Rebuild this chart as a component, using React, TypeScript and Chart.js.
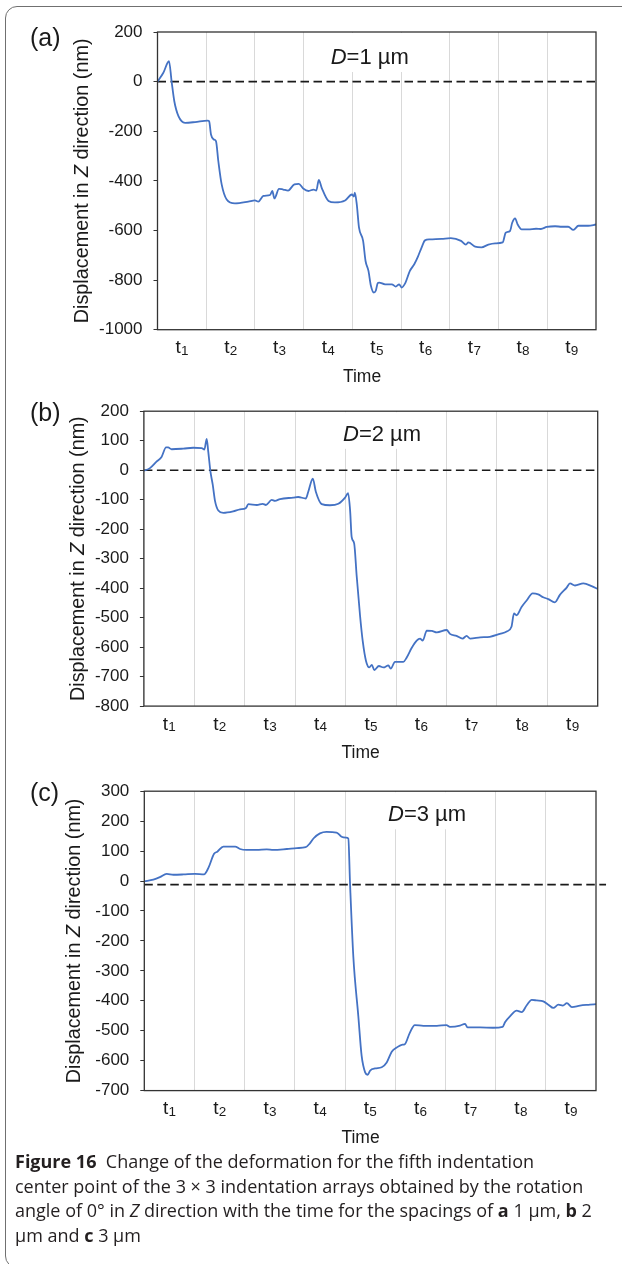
import React, { useEffect, useRef } from 'react';
import { Chart, registerables } from 'chart.js';

Chart.register(...registerables);

// ---------- data ----------
const tickBase = 't';
const tickSubs = ['1', '2', '3', '4', '5', '6', '7', '8', '9'];
const xTitle = 'Time';
const yTitle = ['Displacement in ', 'Z', ' direction (nm)'];

// time in units of interval (0..9), displacement in nm
const timeA = [0.0, 0.12, 0.236, 0.29, 0.345, 0.43, 0.565, 0.77, 1.03, 1.06, 1.098, 1.153, 1.2, 1.248, 1.317, 1.42, 1.59, 1.864, 2.0, 2.07, 2.172, 2.31, 2.356, 2.4, 2.494, 2.58, 2.68, 2.81, 2.9, 2.99, 3.1, 3.2, 3.26, 3.31, 3.37, 3.51, 3.64, 3.85, 3.99, 4.03, 4.05, 4.09, 4.136, 4.22, 4.27, 4.33, 4.38, 4.44, 4.48, 4.52, 4.55, 4.67, 4.81, 4.89, 4.96, 5.01, 5.09, 5.18, 5.27, 5.35, 5.42, 5.49, 5.59, 5.83, 6.02, 6.23, 6.33, 6.38, 6.52, 6.65, 6.79, 6.93, 7.085, 7.147, 7.235, 7.28, 7.34, 7.39, 7.475, 7.61, 7.77, 7.87, 7.99, 8.16, 8.3, 8.43, 8.535, 8.64, 8.84, 9.0];
const dispA = [0, 36, 82, 0, -79, -139, -166, -163, -157, -160, -213, -233, -240, -320, -414, -475, -491, -484, -479, -484, -461, -457, -441, -471, -432, -435, -439, -414, -412, -431, -441, -435, -439, -396, -428, -481, -487, -479, -455, -463, -448, -495, -589, -642, -723, -763, -823, -850, -843, -812, -810, -817, -817, -826, -817, -830, -810, -763, -736, -703, -669, -640, -636, -634, -631, -642, -657, -648, -665, -668, -657, -652, -648, -609, -602, -569, -551, -575, -596, -596, -593, -594, -586, -583, -585, -585, -598, -581, -581, -576];

const timeB = [0.0, 0.12, 0.25, 0.35, 0.44, 0.48, 0.55, 0.78, 0.98, 1.146, 1.2, 1.245, 1.277, 1.32, 1.365, 1.41, 1.476, 1.575, 1.77, 1.906, 2.025, 2.07, 2.24, 2.356, 2.42, 2.535, 2.6, 2.7, 2.963, 3.06, 3.21, 3.26, 3.35, 3.41, 3.526, 3.69, 3.856, 3.99, 4.05, 4.09, 4.12, 4.17, 4.22, 4.286, 4.34, 4.405, 4.47, 4.52, 4.57, 4.66, 4.75, 4.85, 4.895, 4.98, 5.145, 5.21, 5.31, 5.41, 5.476, 5.53, 5.61, 5.71, 5.81, 6.005, 6.07, 6.2, 6.32, 6.4, 6.47, 6.67, 6.86, 7.06, 7.195, 7.29, 7.34, 7.39, 7.49, 7.59, 7.71, 7.82, 7.92, 8.02, 8.15, 8.25, 8.385, 8.45, 8.55, 8.715, 8.88, 9.0];
const dispB = [-2, 7, 29, 45, 77, 77, 71, 73, 76, 75, 70, 106, 62, -5, -49, -104, -137, -145, -140, -133, -128, -115, -118, -114, -118, -101, -104, -98, -93, -91, -96, -73, -29, -73, -115, -119, -114, -93, -78, -137, -226, -248, -359, -492, -580, -647, -669, -660, -678, -664, -669, -662, -673, -650, -650, -636, -603, -578, -571, -578, -544, -545, -550, -542, -555, -562, -571, -562, -571, -567, -565, -555, -547, -531, -486, -492, -464, -442, -418, -421, -431, -437, -448, -423, -398, -384, -391, -384, -393, -403];

const timeC = [0.0, 0.18, 0.31, 0.446, 0.58, 0.78, 1.01, 1.19, 1.275, 1.39, 1.455, 1.575, 1.81, 1.907, 2.04, 2.24, 2.44, 2.57, 2.84, 3.04, 3.215, 3.3, 3.37, 3.5, 3.63, 3.83, 3.93, 4.02, 4.065, 4.1, 4.165, 4.264, 4.33, 4.4, 4.45, 4.5, 4.6, 4.73, 4.83, 4.93, 5.03, 5.13, 5.19, 5.29, 5.39, 5.56, 5.83, 6.02, 6.09, 6.29, 6.39, 6.44, 6.69, 6.95, 7.14, 7.19, 7.29, 7.42, 7.52, 7.62, 7.72, 7.82, 7.95, 8.05, 8.15, 8.25, 8.34, 8.42, 8.52, 8.68, 8.88, 9.0];
const dispC = [-1, 5, 13, 24, 21, 22, 24, 22, 43, 91, 98, 115, 115, 107, 104, 104, 106, 104, 107, 110, 113, 126, 142, 159, 164, 162, 148, 145, 142, -12, -253, -451, -583, -639, -647, -633, -626, -622, -606, -570, -556, -547, -545, -507, -481, -484, -484, -481, -487, -483, -477, -489, -489, -490, -487, -471, -451, -433, -438, -415, -397, -399, -402, -413, -424, -413, -416, -408, -421, -416, -413, -411];

const yRangeA = [-1000, 200];
const yRangeB = [-800, 200];
const yRangeC = [-700, 300];
const yStepA = 200;
const yStepB = 100;
const yStepC = 100;
const zeroLineA = 0;
const zeroLineB = 0;
const zeroLineC = -12;
const zeroEndA = 9;
const zeroEndB = 9;
const zeroEndC = 9.2;
const spacingA = '1';
const spacingB = '2';
const spacingC = '3';

// ---------- layout / style ----------
const FAMILY = '"Liberation Sans", Arial, sans-serif';
const INK = '#1a1a1a';
const W = 622;

type Cfg = {
  top: number;
  height: number;
  area: { left: number; right: number; top: number; bottom: number };
  time: number[];
  disp: number[];
  yRange: number[];
  yStep: number;
  zero: number;
  zeroEnd: number;
  letter: string;
  letterBaseline: number;
  spacing: string;
  dLeft: number;
  dBaseline: number;
  yTitleX: number;
  timeX: number;
};

const panels: Cfg[] = [
  {
    top: 0, height: 390,
    area: { left: 157.5, right: 596, top: 32, bottom: 329.7 },
    time: timeA, disp: dispA, yRange: yRangeA, yStep: yStepA,
    zero: zeroLineA, zeroEnd: zeroEndA,
    letter: '(a)', letterBaseline: 45.7,
    spacing: spacingA, dLeft: 330.7, dBaseline: 64,
    yTitleX: 82.7, timeX: 362,
  },
  {
    top: 390, height: 380,
    area: { left: 143.9, right: 597.7, top: 15.1, bottom: 316.1 },
    time: timeB, disp: dispB, yRange: yRangeB, yStep: yStepB,
    zero: zeroLineB, zeroEnd: zeroEndB,
    letter: '(b)', letterBaseline: 30.7,
    spacing: spacingB, dLeft: 343, dBaseline: 50.8,
    yTitleX: 78.7, timeX: 360.7,
  },
  {
    top: 770, height: 380,
    area: { left: 144.3, right: 596, top: 17.6, bottom: 320.6 },
    time: timeC, disp: dispC, yRange: yRangeC, yStep: yStepC,
    zero: zeroLineC, zeroEnd: zeroEndC,
    letter: '(c)', letterBaseline: 30.7,
    spacing: spacingC, dLeft: 388, dBaseline: 51.3,
    yTitleX: 74.8, timeX: 360.5,
  },
];

function Panel({ cfg }: { cfg: Cfg }) {
  const ref = useRef<HTMLCanvasElement>(null);
  useEffect(() => {
    if (!ref.current) return;
    const a = cfg.area;

    const decor = {
      id: 'decor',
      beforeDatasetsDraw(chart: any) {
        const ctx = chart.ctx as CanvasRenderingContext2D;
        const ca = chart.chartArea;
        ctx.save();
        const fontI = `italic 22px ${FAMILY}`;
        const fontN = `22px ${FAMILY}`;
        const rest = '=' + cfg.spacing + ' µm';
        ctx.font = fontI;
        const dW = ctx.measureText('D').width;
        ctx.font = fontN;
        const rW = ctx.measureText(rest).width;
        ctx.fillStyle = '#ffffff';
        ctx.fillRect(cfg.dLeft - 6, ca.top + 1, dW + rW + 14, cfg.dBaseline + 8 - ca.top - 1);
        ctx.fillStyle = INK;
        ctx.textBaseline = 'alphabetic';
        ctx.textAlign = 'left';
        ctx.font = fontI;
        ctx.fillText('D', cfg.dLeft, cfg.dBaseline);
        ctx.font = fontN;
        ctx.fillText(rest, cfg.dLeft + dW, cfg.dBaseline);
        ctx.restore();
      },
      afterDraw(chart: any) {
        const ctx = chart.ctx as CanvasRenderingContext2D;
        const ca = chart.chartArea;
        const xs = chart.scales.x;
        ctx.save();
        ctx.strokeStyle = '#333333';
        ctx.lineWidth = 1.3;
        ctx.strokeRect(ca.left, ca.top, ca.right - ca.left, ca.bottom - ca.top);
        ctx.fillStyle = INK;
        ctx.textBaseline = 'alphabetic';
        ctx.textAlign = 'left';
        // x tick labels t with subscript
        const fT = `19px ${FAMILY}`;
        const fS = `13.5px ${FAMILY}`;
        tickSubs.forEach((s, i) => {
          const cx = xs.getPixelForValue(i + 0.5);
          ctx.font = fT;
          const tw = ctx.measureText(tickBase).width;
          ctx.font = fS;
          const sw = ctx.measureText(s).width;
          const x0 = cx - (tw + sw) / 2;
          ctx.font = fT;
          ctx.fillText(tickBase, x0, ca.bottom + 23.5);
          ctx.font = fS;
          ctx.fillText(s, x0 + tw + 0.3, ca.bottom + 25.3);
        });
        // x title
        ctx.font = `17.5px ${FAMILY}`;
        ctx.textAlign = 'center';
        ctx.fillText(xTitle, cfg.timeX, ca.bottom + 52);
        ctx.textAlign = 'left';
        // panel letter
        ctx.font = `25px ${FAMILY}`;
        ctx.fillText(cfg.letter, 30, cfg.letterBaseline);
        // y-axis title with italic Z
        const fonts = [`19.8px ${FAMILY}`, `italic 19.8px ${FAMILY}`, `19.8px ${FAMILY}`];
        const widths = yTitle.map((s, i) => {
          ctx.font = fonts[i];
          return ctx.measureText(s).width;
        });
        const total = widths.reduce((p, c) => p + c, 0);
        ctx.translate(cfg.yTitleX, (ca.top + ca.bottom) / 2);
        ctx.rotate(-Math.PI / 2);
        ctx.textBaseline = 'middle';
        let x = -total / 2;
        yTitle.forEach((s, i) => {
          ctx.font = fonts[i];
          ctx.fillText(s, x, 0);
          x += widths[i];
        });
        ctx.restore();
      },
    };

    const chart = new Chart(ref.current, {
      type: 'line',
      data: {
        datasets: [
          {
            data: cfg.time.map((t, i) => ({ x: t, y: cfg.disp[i] })),
            borderColor: '#4472C4',
            borderWidth: 1.8,
            pointRadius: 0,
            cubicInterpolationMode: 'monotone',
            fill: false,
          },
          {
            data: [
              { x: 0, y: cfg.zero },
              { x: cfg.zeroEnd, y: cfg.zero },
            ],
            borderColor: INK,
            borderWidth: 1.6,
            borderDash: [8.5, 4.5],
            pointRadius: 0,
            fill: false,
            clip: false,
          },
        ],
      },
      options: {
        animation: false,
        responsive: false,
        events: [],
        layout: { padding: { left: 0, top: a.top, right: W - a.right, bottom: 0 } },
        plugins: { legend: { display: false }, tooltip: { enabled: false } },
        scales: {
          x: {
            type: 'linear',
            min: 0,
            max: tickSubs.length,
            afterBuildTicks: (s: any) => {
              s.ticks = tickSubs.map((_, i) => ({ value: i }));
            },
            afterFit: (s: any) => {
              s.height = cfg.height - a.bottom;
            },
            grid: { color: '#d9d9d9', lineWidth: 1, drawTicks: false },
            border: { display: false },
            ticks: { display: false },
            title: { display: false },
          },
          y: {
            type: 'linear',
            min: cfg.yRange[0],
            max: cfg.yRange[1],
            afterFit: (s: any) => {
              s.width = a.left;
            },
            grid: { drawOnChartArea: false, drawTicks: true, tickLength: 4, color: '#333333' },
            border: { display: false },
            ticks: {
              stepSize: cfg.yStep,
              padding: 11,
              color: INK,
              font: { family: FAMILY, size: 17 },
              callback: (v: any) => String(v),
            },
          },
        },
      } as any,
      plugins: [decor],
    });
    return () => chart.destroy();
  }, [cfg]);

  return (
    <canvas
      ref={ref}
      width={W}
      height={cfg.height}
      style={{ position: 'absolute', left: 0, top: cfg.top, width: W, height: cfg.height }}
    />
  );
}

export default function App() {
  return (
    <div
      style={{
        position: 'absolute',
        left: 0,
        top: 0,
        width: W,
        height: 1264,
        overflow: 'hidden',
        background: '#ffffff',
      }}
    >
      <div
        style={{
          position: 'absolute',
          left: 5,
          top: 6,
          width: 680,
          height: 1262,
          boxSizing: 'border-box',
          border: '1px solid #707070',
          borderRadius: 12,
        }}
      />
      {panels.map((p) => (
        <Panel key={p.letter} cfg={p} />
      ))}
      <div
        style={{
          position: 'absolute',
          left: 15,
          top: 1149,
          fontFamily: '"Open Sans", "Noto Sans", sans-serif',
          fontSize: 18,
          lineHeight: '24.5px',
          color: '#231f20',
          whiteSpace: 'pre',
        }}
      >
        <div>
          <b>Figure 16</b>
          {'  Change of the deformation for the fifth indentation'}
        </div>
        <div>center point of the 3 × 3 indentation arrays obtained by the rotation</div>
        <div>
          {'angle of 0° in '}
          <i>Z</i>
          {' direction with the time for the spacings of '}
          <b>a</b>
          {' 1 µm, '}
          <b>b</b>
          {' 2'}
        </div>
        <div>
          {'µm and '}
          <b>c</b>
          {' 3 µm'}
        </div>
      </div>
    </div>
  );
}
